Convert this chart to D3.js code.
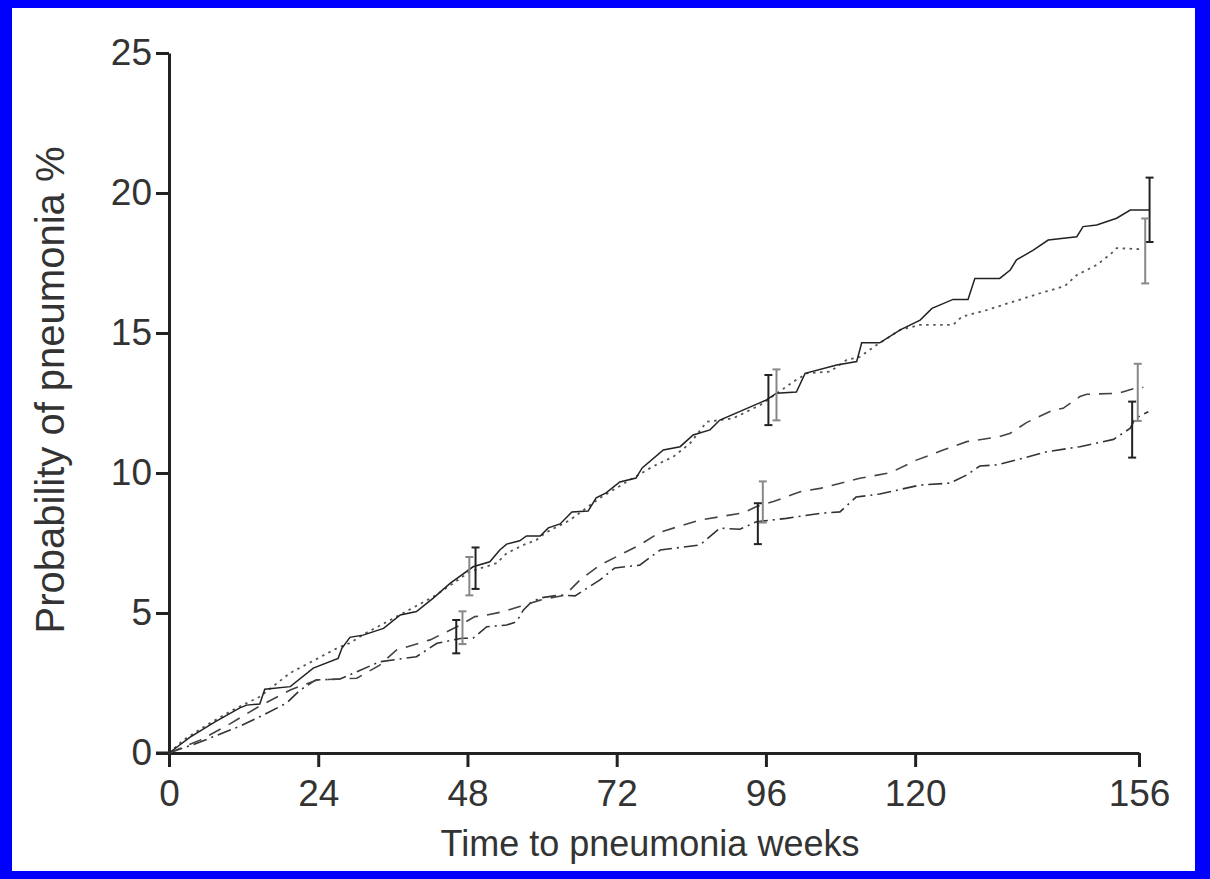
<!DOCTYPE html>
<html lang="en">
<head>
<meta charset="UTF-8">
<title>Probability of pneumonia</title>
<script src="https://d3js.org/d3.v7.min.js"></script>
<style>
  html, body { margin: 0; padding: 0; background: #0000ff; }
  svg { display: block; }
  .tick text { font-family: "Liberation Sans", Arial, sans-serif; fill: #333; }
</style>
</head>
<body>
<svg id="chart"></svg>
<script>
// ---- data (weeks, %) ----
const xTicks = [0, 24, 48, 72, 96, 120, 156];
const yTicks = [0, 5, 10, 15, 20, 25];

const solidWeeks = [0, 3.4, 7.4, 11.4, 12.5, 14.6, 15.4, 19.5, 23.2, 27.2, 27.8, 29.1, 31.2, 34.5, 37.2, 39.8, 42.5, 45.2, 48.9, 51.6, 53.2, 54.3, 56.4, 57.5, 59.7, 61.0, 62.9, 64.8, 67.4, 68.7, 70.3, 72.5, 75.1, 76.1, 79.5, 82.2, 84.3, 87.0, 88.6, 96.1, 97.7, 100.9, 102.3, 107.4, 110.6, 111.4, 114.3, 117.6, 120.8, 122.7, 126.1, 128.5, 129.6, 133.6, 135.3, 136.3, 139.0, 141.4, 146.0, 147.0, 149.2, 152.4, 154.6, 157.7];
const solidPct = [0, 0.57, 1.11, 1.61, 1.71, 1.75, 2.28, 2.37, 3.03, 3.38, 3.74, 4.13, 4.21, 4.45, 4.93, 5.05, 5.53, 6.06, 6.65, 6.83, 7.25, 7.46, 7.58, 7.75, 7.75, 8.04, 8.18, 8.61, 8.64, 9.11, 9.29, 9.68, 9.82, 10.18, 10.82, 10.94, 11.36, 11.54, 11.89, 12.61, 12.85, 12.89, 13.56, 13.86, 13.98, 14.65, 14.65, 15.11, 15.46, 15.88, 16.2, 16.2, 16.95, 16.95, 17.25, 17.61, 17.96, 18.32, 18.44, 18.8, 18.86, 19.1, 19.39, 19.39];

const dottedWeeks = [0, 2.3, 6.1, 10.3, 14.6, 19.5, 27.0, 29.1, 31.8, 36.6, 42.5, 45.7, 48.4, 52.7, 54.3, 57.0, 59.1, 60.5, 64.5, 69.3, 74.1, 77.8, 81.1, 83.8, 86.5, 90.7, 95.1, 100.4, 102.6, 106.3, 109.0, 111.1, 113.8, 117.6, 120.8, 126.1, 127.5, 131.5, 135.8, 140.1, 144.1, 146.0, 149.2, 151.6, 152.4, 156.7];
const dottedPct = [0, 0.46, 1.0, 1.54, 2.01, 2.86, 3.74, 3.93, 4.3, 4.87, 5.58, 6.06, 6.48, 6.78, 7.13, 7.43, 7.61, 7.86, 8.32, 9.11, 9.75, 10.23, 10.58, 11.06, 11.83, 11.95, 12.43, 13.26, 13.56, 13.62, 14.04, 14.15, 14.57, 15.11, 15.29, 15.29, 15.58, 15.82, 16.12, 16.42, 16.68, 17.07, 17.43, 17.85, 18.03, 17.99];

const dashedWeeks = [0, 5.0, 9.8, 14.6, 19.5, 23.8, 30.2, 33.9, 36.6, 42.0, 46.3, 49.2, 51.1, 53.8, 56.4, 59.7, 63.7, 66.1, 69.3, 75.7, 79.0, 85.4, 92.4, 94.5, 97.2, 101.5, 104.7, 111.1, 116.0, 120.2, 124.5, 128.3, 133.6, 135.3, 137.9, 142.2, 143.8, 146.5, 147.6, 152.7, 155.4, 156.7];
const dashedPct = [0, 0.46, 1.04, 1.68, 2.25, 2.61, 2.67, 3.14, 3.68, 4.04, 4.51, 4.87, 4.93, 5.05, 5.23, 5.46, 5.64, 6.18, 6.71, 7.43, 7.89, 8.32, 8.58, 8.8, 8.98, 9.33, 9.45, 9.81, 10.01, 10.46, 10.82, 11.12, 11.3, 11.42, 11.8, 12.25, 12.31, 12.73, 12.81, 12.85, 13.03, 13.06];

const dashDotWeeks = [0, 5.0, 11.4, 14.1, 18.9, 21.1, 23.6, 27.5, 33.9, 39.8, 43.1, 47.1, 48.9, 51.1, 54.3, 55.9, 57.0, 58.1, 59.7, 62.9, 65.3, 69.3, 71.7, 75.7, 79.0, 85.4, 88.6, 91.8, 94.5, 99.3, 104.7, 107.9, 110.5, 114.3, 120.8, 125.6, 128.3, 130.4, 133.1, 137.4, 141.2, 146.5, 151.9, 154.6, 155.4, 157.5];
const dashDotPct = [0, 0.39, 0.96, 1.24, 1.78, 2.25, 2.61, 2.64, 3.26, 3.44, 3.92, 4.1, 4.1, 4.51, 4.57, 4.69, 5.11, 5.35, 5.54, 5.64, 5.61, 6.18, 6.61, 6.71, 7.25, 7.43, 8.03, 7.99, 8.26, 8.38, 8.56, 8.61, 9.14, 9.25, 9.57, 9.64, 9.93, 10.25, 10.29, 10.53, 10.76, 10.94, 11.2, 11.6, 11.95, 12.19];

// error bars: week, low, high
const solidErrWeeks = [49.3, 96.4, 157.7];
const solidErrLow = [5.86, 11.71, 18.25];
const solidErrHigh = [7.34, 13.5, 20.55];
const dottedErrWeeks = [48.3, 97.7, 157.0];
const dottedErrLow = [5.63, 11.88, 16.77];
const dottedErrHigh = [7.0, 13.7, 19.09];
const dashedErrWeeks = [47.2, 95.5, 155.8];
const dashedErrLow = [3.89, 8.23, 11.86];
const dashedErrHigh = [5.06, 9.7, 13.9];
const dashDotErrWeeks = [46.2, 94.7, 154.9];
const dashDotErrLow = [3.56, 7.46, 10.55];
const dashDotErrHigh = [4.75, 8.92, 12.55];

const W = 1210, H = 879;
const frame = { left: 12, top: 8, right: 1195, bottom: 871 };
const plot = { left: 169, right: 1139, top: 53, bottom: 753 };

const svg = d3.select("#chart").attr("width", W).attr("height", H);

svg.append("rect")
  .attr("x", frame.left).attr("y", frame.top)
  .attr("width", frame.right - frame.left)
  .attr("height", frame.bottom - frame.top)
  .attr("fill", "#fff");

const x = d3.scaleLinear().domain([0, 156]).range([plot.left, plot.right]);
const y = d3.scaleLinear().domain([0, 25]).range([plot.bottom, plot.top]);

const g = svg.append("g");

// axes
const xAxis = g.append("g")
  .attr("transform", `translate(0,${plot.bottom})`)
  .call(d3.axisBottom(x).tickValues(xTicks).tickSize(14).tickSizeOuter(0).tickPadding(13));
const yAxis = g.append("g")
  .attr("transform", `translate(${plot.left},0)`)
  .call(d3.axisLeft(y).tickValues(yTicks).tickSize(13).tickSizeOuter(0).tickPadding(4));

[xAxis, yAxis].forEach(a => {
  a.select(".domain").attr("stroke", "#222").attr("stroke-width", 3);
  a.selectAll(".tick line").attr("stroke", "#222").attr("stroke-width", 3);
  a.selectAll(".tick text").style("font-size", "37px").attr("fill", "#333");
});
// close the corner at the origin
g.append("line")
  .attr("x1", plot.left - 13).attr("x2", plot.left)
  .attr("y1", plot.bottom).attr("y2", plot.bottom)
  .attr("stroke", "#222").attr("stroke-width", 3);

// titles
g.append("text")
  .attr("x", 650).attr("y", 856)
  .attr("text-anchor", "middle")
  .style("font-family", "Liberation Sans, Arial, sans-serif")
  .style("font-size", "36px")
  .attr("fill", "#333")
  .text("Time to pneumonia weeks");

g.append("text")
  .attr("transform", "translate(64,390) rotate(-90)")
  .attr("text-anchor", "middle")
  .style("font-family", "Liberation Sans, Arial, sans-serif")
  .style("font-size", "40px")
  .attr("fill", "#333")
  .text("Probability of pneumonia %");

// lines
const series = [
  { w: dashDotWeeks, p: dashDotPct, dash: "14,5,2,5", color: "#333", width: 1.6 },
  { w: dashedWeeks, p: dashedPct, dash: "13,9", color: "#444", width: 1.6 },
  { w: dottedWeeks, p: dottedPct, dash: "2.5,4.5", color: "#555", width: 1.8 },
  { w: solidWeeks, p: solidPct, dash: null, color: "#222", width: 1.5 }
];

const line = d3.line().x(d => x(d[0])).y(d => y(d[1]));

series.forEach(s => {
  g.append("path")
    .datum(d3.zip(s.w, s.p))
    .attr("d", line)
    .attr("fill", "none")
    .attr("stroke", s.color)
    .attr("stroke-width", s.width)
    .attr("stroke-dasharray", s.dash);
});

// error bars
const errSets = [
  { w: solidErrWeeks, lo: solidErrLow, hi: solidErrHigh, color: "#222" },
  { w: dottedErrWeeks, lo: dottedErrLow, hi: dottedErrHigh, color: "#888" },
  { w: dashedErrWeeks, lo: dashedErrLow, hi: dashedErrHigh, color: "#888" },
  { w: dashDotErrWeeks, lo: dashDotErrLow, hi: dashDotErrHigh, color: "#222" }
];

errSets.forEach(e => {
  const rows = d3.zip(e.w, e.lo, e.hi);
  const eg = g.append("g").attr("stroke", e.color).attr("stroke-width", 2);
  eg.selectAll("line.v").data(rows).enter().append("line")
    .attr("x1", d => x(d[0])).attr("x2", d => x(d[0]))
    .attr("y1", d => y(d[1])).attr("y2", d => y(d[2]));
  eg.selectAll("line.lo").data(rows).enter().append("line")
    .attr("x1", d => x(d[0]) - 4).attr("x2", d => x(d[0]) + 4)
    .attr("y1", d => y(d[1])).attr("y2", d => y(d[1]));
  eg.selectAll("line.hi").data(rows).enter().append("line")
    .attr("x1", d => x(d[0]) - 4).attr("x2", d => x(d[0]) + 4)
    .attr("y1", d => y(d[2])).attr("y2", d => y(d[2]));
});
</script>
</body>
</html>
